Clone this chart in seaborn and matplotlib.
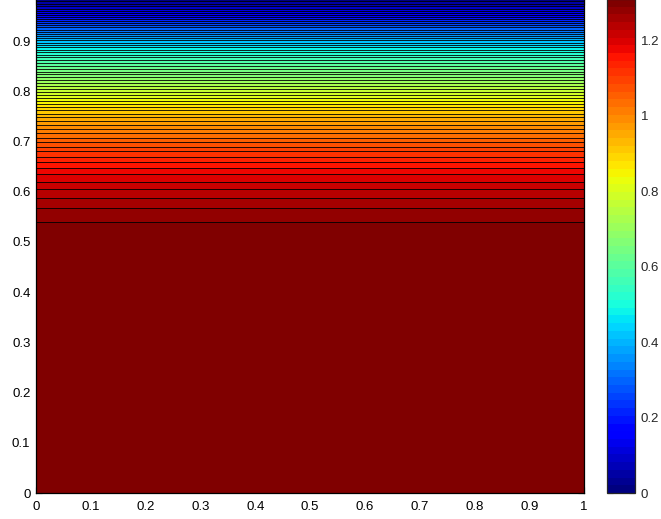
import numpy as np
import matplotlib
matplotlib.use("Agg")
import matplotlib.pyplot as plt
import seaborn as sns
from matplotlib import colors as mcolors
from matplotlib import cm

sns.set_style("ticks")
plt.rcParams['font.family'] = ['Liberation Sans', 'DejaVu Sans']

# profile of the field along y (constant along x)
y_profile = [0.0, 0.52, 0.5404, 0.5671, 0.5871, 0.6050, 0.6201, 0.6349, 0.6468,
             0.6588, 0.6699, 0.6807, 0.6898, 0.6998, 0.75, 0.7994, 0.834, 0.869,
             0.90, 0.93, 0.96, 0.984]
u_profile = [1.31, 1.31, 1.290, 1.270, 1.250, 1.229, 1.209, 1.189, 1.169,
             1.148, 1.128, 1.108, 1.088, 1.068, 0.946, 0.785, 0.664, 0.542,
             0.41, 0.27, 0.12, 0.02]
x_grid = [0.0, 0.5, 1.0]

u_max = 1.31
n_levels = 66
x_ticks = [0, 0.1, 0.2, 0.3, 0.4, 0.5, 0.6, 0.7, 0.8, 0.9, 1]
x_tick_labels = ["0", "0.1", "0.2", "0.3", "0.4", "0.5", "0.6", "0.7", "0.8", "0.9", "1"]
y_ticks = [0, 0.1, 0.2, 0.3, 0.4, 0.5, 0.6, 0.7, 0.8, 0.9]
y_tick_labels = ["0", "0.1", "0.2", "0.3", "0.4", "0.5", "0.6", "0.7", "0.8", "0.9"]
cb_ticks = [0, 0.2, 0.4, 0.6, 0.8, 1.0, 1.2]
cb_tick_labels = ["0", "0.2", "0.4", "0.6", "0.8", "1", "1.2"]

yv = np.array(y_profile)
uv = np.array(u_profile)
xv = np.array(x_grid)
X, Y = np.meshgrid(xv, yv)
Z = np.tile(uv[:, None], (1, len(xv)))

levels = np.linspace(0, u_max, n_levels)
cmap = plt.get_cmap('jet', 64)
norm = mcolors.Normalize(0, u_max)

W, H = 661, 519
fig = plt.figure(figsize=(W / 100, H / 100), dpi=100)
ax = fig.add_axes([36 / W, 26 / H, (584 - 36) / W, 494 / H])
ax.contourf(X, Y, Z, levels=levels, cmap=cmap, norm=norm)
ax.contour(X, Y, Z, levels=levels, colors='k', linewidths=0.6)
ax.set_xlim(0, 1)
ax.set_ylim(0, 0.984)
ax.set_xticks(x_ticks)
ax.set_xticklabels(x_tick_labels)
ax.set_yticks(y_ticks)
ax.set_yticklabels(y_tick_labels)
ax.tick_params(direction='in', length=4, width=0.8, top=True, right=True,
               labelsize=9.5, colors='k')
ax.tick_params(axis='x', pad=6)
ax.tick_params(axis='y', pad=4)
for s in ax.spines.values():
    s.set_linewidth(0.9)
    s.set_color('k')

cax = fig.add_axes([607 / W, 26 / H, 28 / W, 494 / H])
cb = fig.colorbar(cm.ScalarMappable(norm=norm, cmap=cmap), cax=cax)
cb.set_ticks(cb_ticks)
cb.set_ticklabels(cb_tick_labels)
cax.tick_params(direction='in', length=4, width=0.8, left=True, right=True,
                labelsize=9.5, pad=4)
cb.outline.set_linewidth(0.9)

fig.savefig("out.png", dpi=100)
